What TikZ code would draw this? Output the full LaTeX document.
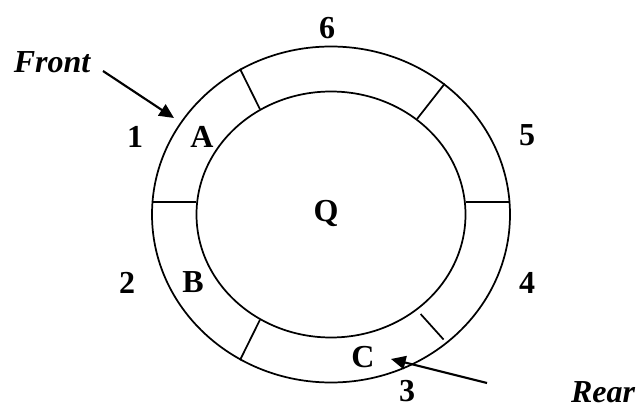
\documentclass[tikz,border=0pt]{standalone}
\usepackage{fontspec}
\setmainfont{Liberation Serif}
\usepackage{tikz}
\usetikzlibrary{arrows.meta, shapes.geometric}
\tikzset{
  ring/.style = {draw, ellipse, line width=1.3pt, inner sep=0pt},
  slot/.style = {font=\fontsize{24}{28}\selectfont\bfseries, inner sep=0pt},
  tag/.style  = {font=\fontsize{24}{28}\selectfont\bfseries\itshape, inner sep=0pt},
  cut/.style  = {line width=1.3pt},
  ptr/.style  = {-{Triangle[length=11pt,width=10pt]}, line width=1.6pt},
}

\begin{document}
\begin{tikzpicture}[x=0.75pt, y=-0.75pt]
  \useasboundingbox (0,0) rectangle (639,406);
  \node[ring, minimum width=268.5pt, minimum height=252pt] (outer) at (331,214.5) {};
  \node[ring, minimum width=201.75pt, minimum height=184.5pt] (inner) at (331,214.5) {};
  % cell borders
  \draw[cut] (outer.122) -- (inner.124);
  \draw[cut] (outer.49) -- (inner.48);
  \draw[cut] (outer.176) -- (outer.176 -| inner.west);
  \draw[cut] (outer.4) -- (outer.4 -| inner.east);
  \draw[cut] (outer.238) -- (inner.236);
  \draw[cut, shorten <=4pt, shorten >=4pt] (inner.312) -- (outer.312);
  % slot numbers and items
  \node[slot] (s6) at (327,28) {6};
  \node[slot] (s1) at (135,137) {1};
  \node[slot] (s5) at (527,135) {5};
  \node[slot] (s2) at (127,283) {2};
  \node[slot] (s4) at (527,283) {4};
  \node[slot] (s3) at (407,391) {3};
  \node[slot] (qa) at (202,137) {A};
  \node[slot] (qb) at (193,282) {B};
  \node[slot] (qc) at (363,357) {C};
  \node[slot] (q)  at (326,213) {Q};
  % pointers
  \node[tag] (front) at (52,62) {Front};
  \node[tag] (rear)  at (603,392) {Rear};
  \coordinate (ftail) at (103,71);
  \coordinate (ftip)  at (174,118);
  \coordinate (rtail) at (487,383);
  \coordinate (rtip)  at (391,359);
  \draw[ptr] (ftail) -- (ftip);
  \draw[ptr] (rtail) -- (rtip);
\end{tikzpicture}
\end{document}
